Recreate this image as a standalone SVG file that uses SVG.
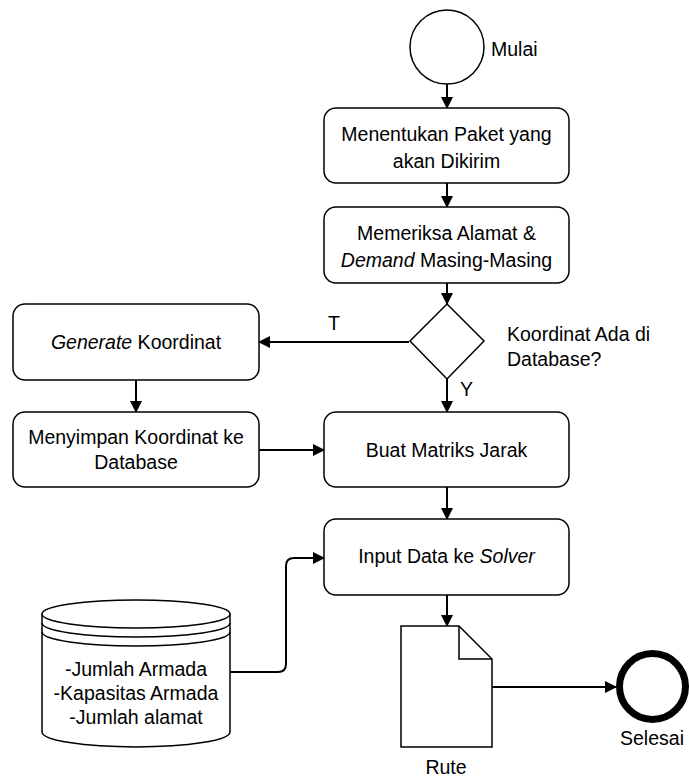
<svg xmlns="http://www.w3.org/2000/svg" width="689" height="779" viewBox="0 0 689 779">
<defs>
<style>
.box{fill:#fff;stroke:#000;stroke-width:1.5}
.t{font-family:"Liberation Sans",Arial,sans-serif;font-size:19.5px;fill:#000}
.c{text-anchor:middle}
.con{fill:none;stroke:#000;stroke-width:2}
</style>
<marker id="ah" markerUnits="userSpaceOnUse" markerWidth="12" markerHeight="12" refX="11" refY="6" orient="auto">
<path d="M0,0 L12,6 L0,12 Z" fill="#000"/>
</marker>
</defs>
<rect width="689" height="779" fill="#fff"/>
<g id="connectors">
<line class="con" x1="447" y1="84" x2="447" y2="108" marker-end="url(#ah)"/>
<line class="con" x1="447" y1="183" x2="447" y2="207" marker-end="url(#ah)"/>
<line class="con" x1="447" y1="283" x2="447" y2="304" marker-end="url(#ah)"/>
<line class="con" x1="447" y1="379" x2="447" y2="412" marker-end="url(#ah)"/>
<line class="con" x1="409" y1="342" x2="259" y2="342" marker-end="url(#ah)"/>
<line class="con" x1="136" y1="380" x2="136" y2="412" marker-end="url(#ah)"/>
<line class="con" x1="259" y1="450" x2="324" y2="450" marker-end="url(#ah)"/>
<line class="con" x1="447" y1="487" x2="447" y2="519" marker-end="url(#ah)"/>
<line class="con" x1="447" y1="595" x2="447" y2="626" marker-end="url(#ah)"/>
<path class="con" d="M230,672 H278 Q286,672 286,664 V566 Q286,558 294,558 H324" marker-end="url(#ah)"/>
<line class="con" x1="492" y1="687" x2="616" y2="687" stroke-width="1.5" marker-end="url(#ah)"/>
<text class="t c" x="334" y="330">T</text>
<text class="t" x="460" y="396">Y</text>
</g>
<g id="start">
<circle cx="447" cy="47" r="37" class="box"/>
<text class="t" x="491" y="56">Mulai</text>
</g>
<g id="n1">
<rect class="box" x="324" y="108" width="245" height="75" rx="12"/>
<text class="t c" x="446.5" y="141">Menentukan Paket yang</text>
<text class="t c" x="446.5" y="168">akan Dikirim</text>
</g>
<g id="n2">
<rect class="box" x="324" y="207" width="245" height="76" rx="12"/>
<text class="t c" x="446.5" y="240">Memeriksa Alamat &amp;</text>
<text class="t c" x="446.5" y="267"><tspan font-style="italic">Demand</tspan> Masing-Masing</text>
</g>
<g id="decision">
<path class="box" d="M447,304 L484,341 L447,379 L410,341 Z"/>
<text class="t" x="507" y="341">Koordinat Ada di</text>
<text class="t" x="507" y="366">Database?</text>
</g>
<g id="generate">
<rect class="box" x="13" y="304" width="246" height="76" rx="12"/>
<text class="t c" x="136" y="349"><tspan font-style="italic">Generate</tspan> Koordinat</text>
</g>
<g id="simpan">
<rect class="box" x="13" y="412" width="246" height="75" rx="12"/>
<text class="t c" x="136" y="444">Menyimpan Koordinat ke</text>
<text class="t c" x="136" y="469">Database</text>
</g>
<g id="matriks">
<rect class="box" x="324" y="412" width="245" height="75" rx="12"/>
<text class="t c" x="446.5" y="457">Buat Matriks Jarak</text>
</g>
<g id="input">
<rect class="box" x="324" y="519" width="245" height="76" rx="12"/>
<text class="t c" x="446.5" y="563">Input Data ke <tspan font-style="italic">Solver</tspan></text>
</g>
<g id="database">
<path class="box" d="M42,614 V732 A94,15 0 0 0 230,732 V614"/>
<ellipse class="box" cx="136" cy="614" rx="94" ry="14"/>
<path class="box" style="fill:none" d="M42,623 A94,14 0 0 0 230,623"/>
<path class="box" style="fill:none" d="M42,632 A94,14 0 0 0 230,632"/>
<text class="t c" x="136" y="676">-Jumlah Armada</text>
<text class="t c" x="136" y="700">-Kapasitas Armada</text>
<text class="t c" x="136" y="724">-Jumlah alamat</text>
</g>
<g id="rute">
<path class="box" d="M401,626 H459 L492,659 V747 H401 Z"/>
<path class="box" style="fill:none" d="M459,626 V659 H492"/>
<text class="t c" x="446" y="774">Rute</text>
</g>
<g id="end">
<circle cx="652.5" cy="686.5" r="33" fill="#fff" stroke="#000" stroke-width="7"/>
<text class="t c" x="652" y="745">Selesai</text>
</g>
</svg>
